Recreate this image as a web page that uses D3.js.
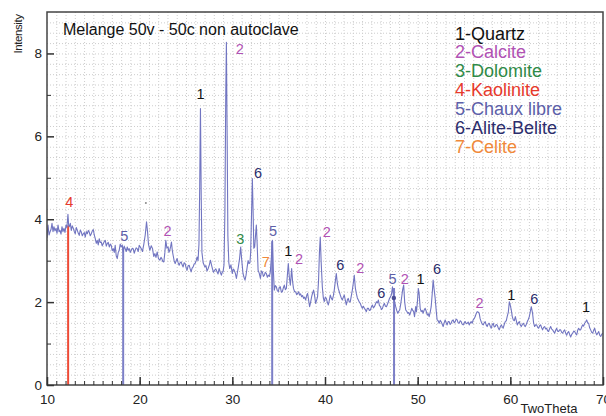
<!DOCTYPE html>
<html>
<head>
<meta charset="utf-8">
<script src="https://cdn.jsdelivr.net/npm/d3@7"></script>
<style>
  body { margin: 0; background: #fff; }
  svg { display: block; font-family: "Liberation Sans", Arial, sans-serif; }
</style>
</head>
<body>
<svg id="chart" width="606" height="416"></svg>
<script>
// DATA SECTION

const title = 'Melange 50v - 50c non autoclave';
const xLabel = 'TwoTheta';
const yLabel = 'Intensity';

const phases = ['1-Quartz', '2-Calcite', '3-Dolomite', '4-Kaolinite', '5-Chaux libre', '6-Alite-Belite', '7-Celite'];
const phaseColors = ['#111111', '#b152b4', '#2f8a47', '#e6392c', '#5d5fa9', '#2c2d6c', '#f0893a'];

const xTicks = [10, 20, 30, 40, 50, 60, 70];
const yTicks = [0, 2, 4, 6, 8];

// diffractogram: [2theta, intensity]
const scan = [
  [10.00,3.55],[10.11,3.86],[10.22,3.62],[10.32,3.69],[10.43,3.75],[10.54,3.90],[10.65,3.70],[10.75,3.82],[10.86,3.72],[10.97,3.78],
  [11.08,3.66],[11.19,3.86],[11.30,3.70],[11.40,3.73],[11.51,3.64],[11.62,3.82],[11.72,3.70],[11.83,3.78],[11.94,3.68],[12.05,3.86],
  [12.15,3.80],[12.26,4.12],[12.34,3.85],[12.41,3.82],[12.52,3.90],[12.62,3.73],[12.73,3.84],[12.84,3.78],[12.95,3.70],[13.05,3.65],
  [13.16,3.80],[13.27,3.73],[13.38,3.66],[13.48,3.61],[13.59,3.74],[13.70,3.69],[13.81,3.60],[13.92,3.65],[14.02,3.68],[14.13,3.57],
  [14.24,3.70],[14.35,3.65],[14.46,3.73],[14.56,3.69],[14.67,3.60],[14.78,3.65],[14.89,3.72],[15.00,3.75],[15.10,3.62],[15.21,3.53],
  [15.32,3.42],[15.42,3.49],[15.53,3.38],[15.64,3.53],[15.74,3.44],[15.85,3.45],[15.96,3.36],[16.07,3.41],[16.18,3.46],[16.29,3.49],
  [16.40,3.35],[16.50,3.41],[16.61,3.44],[16.72,3.33],[16.83,3.40],[16.93,3.37],[17.04,3.24],[17.15,3.29],[17.26,3.20],[17.36,3.37],
  [17.47,3.12],[17.58,3.05],[17.69,3.20],[17.79,3.25],[17.90,3.40],[18.01,3.33],[18.12,3.38],[18.23,3.21],[18.33,3.35],[18.44,3.29],
  [18.55,3.22],[18.66,3.33],[18.76,3.25],[18.87,3.29],[18.98,3.20],[19.09,3.25],[19.20,3.30],[19.30,3.29],[19.41,3.18],[19.52,3.25],
  [19.62,3.31],[19.73,3.29],[19.84,3.22],[19.95,3.37],[20.06,3.33],[20.17,3.29],[20.30,3.22],[20.45,3.40],[20.60,3.62],[20.74,3.94],
  [20.85,3.70],[20.95,3.40],[21.10,3.25],[21.25,3.36],[21.39,3.29],[21.52,3.10],[21.64,3.17],[21.76,3.08],[21.89,3.21],[22.03,3.05],
  [22.18,3.01],[22.30,3.08],[22.39,3.05],[22.50,2.98],[22.61,2.97],[22.72,3.20],[22.82,3.49],[22.94,3.30],[23.07,3.33],[23.16,3.20],
  [23.25,3.25],[23.35,3.35],[23.43,3.45],[23.52,3.25],[23.61,3.13],[23.72,3.00],[23.83,2.93],[23.94,3.00],[24.04,3.05],[24.15,2.95],
  [24.26,2.89],[24.37,2.95],[24.48,2.97],[24.58,2.90],[24.69,2.85],[24.80,2.95],[24.91,2.93],[25.02,2.82],[25.12,2.77],[25.23,2.88],
  [25.34,2.89],[25.45,2.80],[25.55,2.73],[25.66,2.82],[25.77,2.85],[25.88,2.92],[25.98,2.93],[26.10,3.00],[26.20,3.09],[26.30,3.00],
  [26.40,3.40],[26.48,4.80],[26.56,6.67],[26.64,4.60],[26.72,3.20],[26.85,2.95],[27.03,2.85],[27.15,2.88],[27.27,2.75],[27.39,2.81],
  [27.52,2.90],[27.64,3.01],[27.75,2.90],[27.85,2.81],[27.97,2.72],[28.10,2.77],[28.22,2.80],[28.35,2.73],[28.46,2.68],[28.57,2.81],
  [28.70,2.72],[28.82,2.65],[28.92,2.73],[29.00,2.73],[29.10,2.90],[29.20,4.20],[29.29,7.00],[29.36,8.27],[29.44,6.00],[29.52,3.60],
  [29.62,2.95],[29.72,2.81],[29.85,2.90],[29.99,2.69],[30.10,2.80],[30.20,2.77],[30.32,2.70],[30.44,2.57],[30.55,2.72],[30.65,2.85],
  [30.78,3.05],[30.90,3.33],[31.02,3.00],[31.15,2.69],[31.26,2.60],[31.37,2.53],[31.48,2.65],[31.58,2.81],[31.70,3.00],[31.80,2.93],
  [31.90,2.95],[31.98,3.20],[32.08,4.20],[32.16,4.98],[32.24,4.20],[32.32,3.30],[32.41,3.33],[32.50,3.60],[32.59,3.86],[32.68,3.40],
  [32.78,2.77],[32.90,2.70],[33.03,2.57],[33.14,2.75],[33.24,2.73],[33.35,2.62],[33.46,2.65],[33.56,2.72],[33.67,2.69],[33.78,2.60],
  [33.89,2.65],[34.00,2.62],[34.10,2.73],[34.22,3.10],[34.32,3.49],[34.42,2.80],[34.53,2.29],[34.64,2.40],[34.75,2.37],[34.85,2.28],
  [34.96,2.25],[35.07,2.36],[35.18,2.37],[35.29,2.24],[35.39,2.25],[35.50,2.34],[35.61,2.41],[35.72,2.30],[35.83,2.33],[35.94,2.65],
  [36.04,2.93],[36.15,2.60],[36.26,2.41],[36.33,2.60],[36.40,2.81],[36.50,2.50],[36.60,2.33],[36.72,2.25],[36.83,2.25],[36.94,2.18],
  [37.05,2.21],[37.15,2.25],[37.26,2.17],[37.37,2.20],[37.48,2.13],[37.58,2.16],[37.69,2.09],[37.80,2.12],[37.91,2.05],[38.01,2.15],
  [38.12,2.21],[38.23,2.05],[38.34,1.89],[38.45,2.00],[38.56,2.13],[38.66,2.22],[38.77,2.29],[38.88,2.15],[38.99,1.97],[39.10,2.05],
  [39.20,2.13],[39.30,2.50],[39.40,3.20],[39.49,3.57],[39.58,3.00],[39.71,2.37],[39.82,2.10],[39.92,2.01],[40.03,2.12],[40.14,2.09],
  [40.25,2.00],[40.36,1.93],[40.47,2.05],[40.57,2.17],[40.68,2.10],[40.79,2.05],[40.90,2.15],[41.00,2.29],[41.11,2.50],[41.22,2.69],
  [41.33,2.45],[41.43,2.33],[41.54,2.25],[41.65,2.17],[41.76,2.10],[41.87,2.05],[41.98,2.12],[42.08,2.17],[42.19,2.05],[42.30,1.93],
  [42.41,2.05],[42.51,2.09],[42.62,2.00],[42.73,2.01],[42.84,2.15],[42.95,2.29],[43.05,2.45],[43.16,2.65],[43.27,2.35],[43.38,2.21],
  [43.49,2.10],[43.60,2.05],[43.70,2.00],[43.81,1.97],[43.92,1.90],[44.03,1.85],[44.14,1.90],[44.25,1.85],[44.35,1.82],[44.46,1.77],
  [44.57,1.85],[44.68,1.85],[44.79,1.80],[44.90,1.81],[45.00,1.88],[45.11,1.93],[45.22,1.86],[45.33,1.89],[45.44,1.95],[45.55,2.01],
  [45.66,1.98],[45.76,2.05],[45.87,1.92],[45.98,1.89],[46.09,1.82],[46.20,1.85],[46.30,1.92],[46.41,1.97],[46.52,1.90],[46.63,1.89],
  [46.74,1.95],[46.84,2.01],[46.95,2.08],[47.06,2.13],[47.17,2.18],[47.28,2.37],[47.41,2.10],[47.52,2.00],[47.63,1.89],[47.74,1.80],
  [47.85,1.73],[47.96,1.78],[48.06,1.81],[48.17,1.95],[48.28,2.13],[48.38,2.30],[48.49,2.41],[48.60,2.00],[48.71,1.81],[48.82,1.78],
  [48.93,1.73],[49.03,1.75],[49.14,1.69],[49.25,1.76],[49.36,1.85],[49.47,1.80],[49.57,1.77],[49.66,1.65],[49.79,1.89],[49.87,1.77],
  [49.97,2.00],[50.07,2.33],[50.16,2.20],[50.27,1.85],[50.38,1.77],[50.49,1.80],[50.59,1.73],[50.70,1.81],[50.81,1.85],[50.92,1.78],
  [51.03,1.69],[51.13,1.72],[51.24,1.65],[51.35,1.75],[51.46,1.89],[51.57,2.20],[51.67,2.53],[51.78,2.30],[51.89,2.09],[52.00,1.80],
  [52.10,1.57],[52.21,1.55],[52.32,1.49],[52.43,1.56],[52.53,1.53],[52.64,1.47],[52.75,1.41],[52.86,1.50],[52.97,1.57],[53.07,1.50],
  [53.18,1.45],[53.29,1.53],[53.40,1.53],[53.51,1.46],[53.61,1.49],[53.72,1.55],[53.83,1.57],[53.94,1.50],[54.05,1.53],[54.15,1.59],
  [54.26,1.57],[54.37,1.50],[54.48,1.49],[54.59,1.55],[54.70,1.53],[54.80,1.47],[54.91,1.45],[55.02,1.50],[55.13,1.53],[55.24,1.48],
  [55.34,1.49],[55.45,1.52],[55.56,1.45],[55.67,1.50],[55.77,1.53],[55.88,1.49],[55.99,1.57],[56.10,1.60],[56.21,1.65],[56.31,1.72],
  [56.42,1.77],[56.53,1.76],[56.64,1.73],[56.74,1.60],[56.85,1.53],[56.96,1.47],[57.07,1.45],[57.18,1.50],[57.29,1.53],[57.39,1.45],
  [57.50,1.41],[57.61,1.47],[57.72,1.49],[57.83,1.42],[57.94,1.37],[58.04,1.45],[58.15,1.49],[58.26,1.40],[58.37,1.41],[58.47,1.46],
  [58.58,1.45],[58.69,1.38],[58.80,1.33],[58.91,1.40],[59.02,1.45],[59.12,1.41],[59.23,1.37],[59.34,1.46],[59.45,1.53],[59.56,1.55],
  [59.66,1.65],[59.78,1.75],[59.89,2.01],[59.95,1.97],[60.10,1.81],[60.21,1.65],[60.32,1.57],[60.43,1.55],[60.54,1.65],[60.65,1.55],
  [60.75,1.45],[60.86,1.50],[60.97,1.53],[61.08,1.45],[61.18,1.41],[61.29,1.46],[61.40,1.49],[61.51,1.44],[61.61,1.41],[61.72,1.46],
  [61.83,1.53],[61.94,1.58],[62.05,1.65],[62.16,1.78],[62.26,1.89],[62.40,1.73],[62.51,1.50],[62.62,1.41],[62.73,1.45],[62.84,1.45],
  [62.95,1.39],[63.05,1.37],[63.16,1.43],[63.27,1.45],[63.38,1.38],[63.48,1.33],[63.59,1.39],[63.70,1.41],[63.81,1.35],[63.92,1.37],
  [64.02,1.31],[64.13,1.29],[64.24,1.36],[64.35,1.41],[64.46,1.35],[64.56,1.33],[64.67,1.29],[64.78,1.25],[64.89,1.32],[65.00,1.37],
  [65.10,1.30],[65.21,1.29],[65.32,1.33],[65.43,1.33],[65.54,1.27],[65.64,1.25],[65.75,1.30],[65.86,1.33],[65.97,1.25],[66.08,1.20],
  [66.18,1.26],[66.29,1.29],[66.40,1.22],[66.51,1.16],[66.62,1.22],[66.73,1.25],[66.84,1.30],[66.94,1.29],[67.05,1.24],[67.16,1.21],
  [67.27,1.32],[67.37,1.37],[67.48,1.33],[67.59,1.33],[67.70,1.40],[67.80,1.45],[67.91,1.42],[68.02,1.49],[68.13,1.52],[68.24,1.57],
  [68.35,1.50],[68.45,1.49],[68.56,1.38],[68.67,1.33],[68.78,1.27],[68.89,1.25],[68.99,1.32],[69.10,1.37],[69.21,1.27],[69.32,1.21],
  [69.43,1.25],[69.54,1.29],[69.65,1.20],[69.75,1.17],[69.86,1.22],[69.97,1.25]
];

// lines dropped to the axis: [2theta, top intensity, phase]
const dropLines = [[12.28, 3.85, 4], [18.22, 3.32, 5], [34.30, 3.47, 5], [47.45, 2.34, 5]];

// peak labels: [phase, 2theta, intensity of label centre]
const peakLabels = [
  [4, 12.40, 4.42], [5, 18.33, 3.59], [2, 23.01, 3.73], [1, 26.56, 7.03], [2, 30.80, 8.11],
  [6, 32.77, 5.13], [3, 30.87, 3.53], [7, 33.60, 2.97], [5, 34.39, 3.73], [1, 36.05, 3.24],
  [2, 37.19, 3.04], [2, 40.20, 3.69], [6, 41.65, 2.91], [2, 43.80, 2.84], [6, 46.07, 2.22],
  [5, 47.28, 2.57], [2, 48.61, 2.57], [1, 50.30, 2.57], [6, 52.10, 2.81], [2, 56.69, 1.99],
  [1, 60.11, 2.17], [6, 62.59, 2.07], [1, 68.16, 1.89]
];

// small marks: [2theta, intensity]
const specks = [[47.43, 2.10], [20.67, 4.39]];


// RENDER SECTION

let svg = d3.select('#chart');

let x = d3.scaleLinear().domain([10, 70]).range([47, 603]);
let y = d3.scaleLinear().domain([0, 9]).range([385, 12]);

svg.append('defs').append('clipPath')
  .attr('id', 'plot-area')
  .append('rect')
  .attr('x', x(10)).attr('y', y(9))
  .attr('width', x(70) - x(10))
  .attr('height', y(0) - y(9));

// dotted grid
let grid = svg.append('g')
  .attr('class', 'grid')
  .attr('stroke', '#cdcdcd')
  .attr('stroke-width', 1)
  .attr('stroke-dasharray', '1,2');
grid.selectAll('line.gx')
  .data(d3.range(11, 70))
  .enter().append('line')
  .attr('class', 'gx')
  .attr('x1', d => x(d) + 0.5).attr('x2', d => x(d) + 0.5)
  .attr('y1', y(0)).attr('y2', y(9));
grid.selectAll('line.gy')
  .data(d3.range(1, 36).map(d => d / 4))
  .enter().append('line')
  .attr('class', 'gy')
  .attr('x1', x(10)).attr('x2', x(70))
  .attr('y1', d => y(d) + 0.5).attr('y2', d => y(d) + 0.5);

let plot = svg.append('g').attr('clip-path', 'url(#plot-area)');

// vertical reference lines
let dropColor = {4: '#ee4b37', 5: '#7c7fc7'};
plot.selectAll('line.drop')
  .data(dropLines)
  .enter().append('line')
  .attr('class', 'drop')
  .attr('x1', d => x(d[0])).attr('x2', d => x(d[0]))
  .attr('y1', y(0)).attr('y2', d => y(d[1]))
  .attr('stroke', d => dropColor[d[2]])
  .attr('stroke-width', 2);

// the scan itself
let line = d3.line()
  .x(d => x(d[0]))
  .y(d => y(d[1]));

plot.append('path')
  .datum(scan)
  .attr('fill', 'none')
  .attr('stroke', '#7175c1')
  .attr('stroke-width', 1.1)
  .attr('stroke-linejoin', 'round')
  .attr('d', line);

plot.selectAll('circle.speck')
  .data(specks)
  .enter().append('circle')
  .attr('class', 'speck')
  .attr('cx', d => x(d[0])).attr('cy', d => y(d[1]))
  .attr('r', (d, i) => i === 0 ? 2.2 : 1)
  .attr('fill', (d, i) => i === 0 ? '#4a4c94' : '#888');

// peak labels
svg.append('g')
  .attr('class', 'peak-labels')
  .attr('font-size', 14.5)
  .attr('text-anchor', 'middle')
  .selectAll('text')
  .data(peakLabels)
  .enter().append('text')
  .attr('x', d => x(d[1]))
  .attr('y', d => y(d[2]))
  .attr('dy', '0.36em')
  .attr('fill', d => phaseColors[d[0] - 1])
  .text(d => d[0]);

// frame
svg.append('rect')
  .attr('x', x(10)).attr('y', y(9))
  .attr('width', x(70) - x(10))
  .attr('height', y(0) - y(9))
  .attr('fill', 'none')
  .attr('stroke', '#444')
  .attr('stroke-width', 1.5);

// axes with inward ticks
let styleAxis = g => g
  .call(g => g.select('.domain').remove())
  .call(g => g.selectAll('.tick line').attr('stroke', '#333'))
  .call(g => g.selectAll('.tick text')
    .attr('font-family', '"Liberation Sans", Arial, sans-serif')
    .attr('font-size', 13.5)
    .attr('fill', '#222'));

svg.append('g')
  .attr('transform', `translate(0,${y(0)})`)
  .call(d3.axisBottom(x).tickValues(d3.range(11, 70)).tickSize(-4).tickFormat(''))
  .call(styleAxis);
svg.append('g')
  .attr('transform', `translate(0,${y(0)})`)
  .call(d3.axisBottom(x).tickValues(xTicks).tickSize(-8).tickPadding(9))
  .call(styleAxis)
  .call(g => g.selectAll('.tick line').attr('stroke-width', 1.5));

svg.append('g')
  .attr('transform', `translate(${x(10)},0)`)
  .call(d3.axisLeft(y).tickValues([1, 3, 5, 7]).tickSize(-4).tickFormat(''))
  .call(styleAxis);
svg.append('g')
  .attr('transform', `translate(${x(10)},0)`)
  .call(d3.axisLeft(y).tickValues(yTicks).tickSize(-7).tickPadding(5))
  .call(styleAxis)
  .call(g => g.selectAll('.tick line').attr('stroke-width', 1.5));

// axis titles
svg.append('text')
  .attr('transform', 'translate(22,34) rotate(-90)')
  .attr('text-anchor', 'middle')
  .attr('font-size', 11.5)
  .attr('letter-spacing', -0.4)
  .attr('fill', '#222')
  .text(yLabel);

svg.append('text')
  .attr('x', 549).attr('y', 413)
  .attr('text-anchor', 'middle')
  .attr('font-size', 13)
  .attr('fill', '#222')
  .text(xLabel);

// title
svg.append('text')
  .attr('x', 63).attr('y', 34.5)
  .attr('font-size', 16)
  .attr('fill', '#111')
  .text(title);

// legend
svg.append('g')
  .attr('class', 'legend')
  .attr('font-size', 18)
  .selectAll('text')
  .data(phases)
  .enter().append('text')
  .attr('x', 455)
  .attr('y', (d, i) => 39.5 + i * 18.9)
  .attr('fill', (d, i) => phaseColors[i])
  .text(d => d);
</script>
</body>
</html>
